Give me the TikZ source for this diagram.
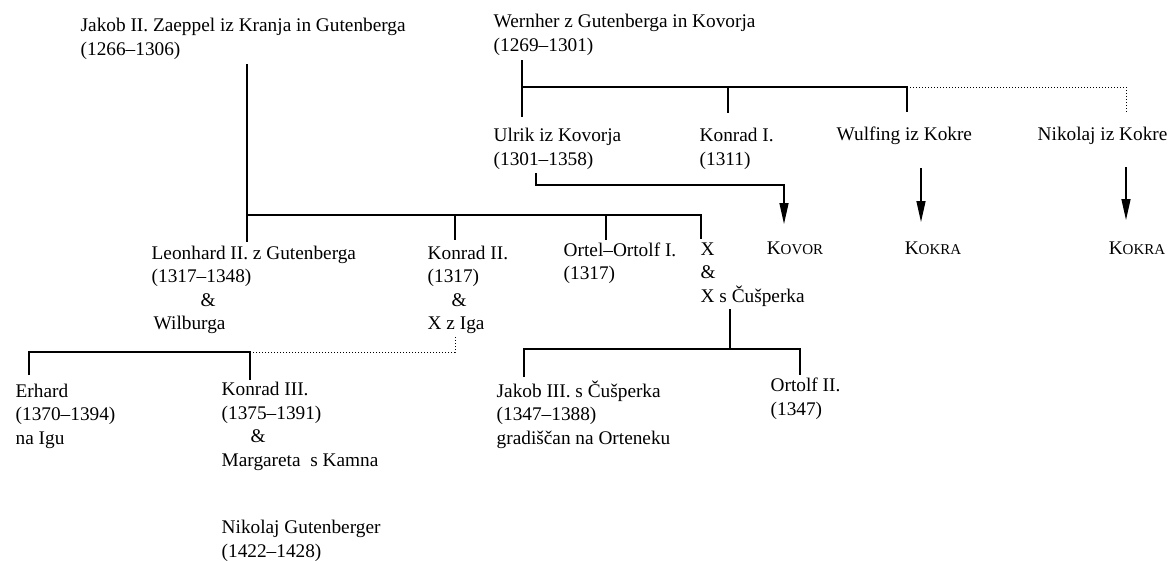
\documentclass[tikz,border=0pt]{standalone}
\usepackage{fontspec}
\usepackage{tikz}
\usetikzlibrary{arrows.meta}
\setmainfont{Liberation Serif}
\newcommand{\fakesc}[2]{#1{\fontsize{15}{18}\selectfont #2}}

\begin{document}
\begin{tikzpicture}[x=1pt,y=-1pt,line width=1.4pt,
    font=\fontsize{19.3}{23.5}\selectfont,
    person/.style={anchor=base west,align=left,inner sep=0pt},
    place/.style={anchor=base,inner sep=0pt},
    down/.style={-{Triangle[length=21pt,width=9pt]}},
    faint/.style={dotted,line width=1pt}]
    \useasboundingbox (0,0) rectangle (1170,560);
    % first generation (anchor is the baseline of the last line)
    \node at (80,55) [person] (jakob) {Jakob II. Zaeppel iz Kranja in Gutenberga\\(1266--1306)};
    \node at (493,51) [person] (wernher) {Wernher z Gutenberga in Kovorja\\(1269--1301)};
    % Kovor branch
    \node at (493,165) [person] (ulrik) {Ulrik iz Kovorja\\(1301--1358)};
    \node at (699,165) [person] (konradI) {Konrad I.\\(1311)};
    \node at (836,140) [person] (wulfing) {Wulfing iz Kokre};
    \node at (1037,140) [person] (nikolaj) {Nikolaj iz Kokre};
    \node at (795,254) [place] (kovor) {\fakesc{K}{OVOR}};
    \node at (933,254) [place] (kokraA) {\fakesc{K}{OKRA}};
    \node at (1137,254) [place] (kokraB) {\fakesc{K}{OKRA}};
    % Gutenberg branch
    \node at (151,329.5) [person] (leonhard) {Leonhard II. z Gutenberga\\(1317--1348)\\\hspace{49pt}\&\\\hspace{2pt}Wilburga};
    \node at (427,329.5) [person] (konradII) {Konrad II.\\(1317)\\\hspace{24pt}\&\\X z Iga};
    \node at (563,279.5) [person] (ortel) {Ortel--Ortolf I.\\(1317)};
    \node at (700,302) [person] (xcus) {X\\\&\\X s Čušperka};
    \node at (15,444) [person] (erhard) {Erhard\\(1370--1394)\\na Igu};
    \node at (221,466) [person] (konradIII) {Konrad III.\\(1375--1391)\\\hspace{29pt}\&\\Margareta\ \ s Kamna};
    \node at (496,444) [person] (jakobIII) {Jakob III. s Čušperka\\(1347--1388)\\gradiščan na Orteneku};
    \node at (770,415) [person] (ortolfII) {Ortolf II.\\(1347)};
    \node at (221,557) [person] (nikolajG) {Nikolaj Gutenberger\\(1422--1428)};
    % connector points
    \coordinate (j0) at (247,64);   \coordinate (j1) at (247,242);
    \coordinate (jb) at (701,215);  \coordinate (jx) at (701,239);
    \coordinate (k2) at (455,240);  \coordinate (o1) at (606,240);
    \coordinate (w0) at (522,60);   \coordinate (w1) at (522,117);
    \coordinate (wb) at (907,87);   \coordinate (k1) at (728,113);
    \coordinate (wf) at (907,112);  \coordinate (nk) at (1126,112);
    \coordinate (u0) at (536,173);  \coordinate (ka) at (784,224);
    \coordinate (f0) at (921,168);  \coordinate (fa) at (921,222);
    \coordinate (n0) at (1126,167); \coordinate (na) at (1126,220);
    \coordinate (i0) at (455,337);  \coordinate (c3) at (250,352);
    \coordinate (c3b) at (250,380); \coordinate (er) at (29,375);
    \coordinate (x0) at (730,309);  \coordinate (x1) at (730,349);
    \coordinate (j3) at (524,377);  \coordinate (o2) at (800,375);
    % lines
    \draw (j0) -- (j1) (j0 |- jb) -- (jb) -- (jx) (k2 |- jb) -- (k2) (o1 |- jb) -- (o1);
    \draw (w0) -- (w1) (w0 |- wb) -- (wb) -- (wf) (k1 |- wb) -- (k1);
    \draw[faint] (wb) -| (nk);
    \draw[down] (u0) |- ([yshift=-12pt]u0 -| ka) -- (ka);
    \draw[down] (f0) -- (fa);
    \draw[down] (n0) -- (na);
    \draw[faint] (i0) |- (c3);
    \draw (er) |- (c3) -- (c3b);
    \draw (x0) -- (x1) (j3) |- (x1) -| (o2);
\end{tikzpicture}
\end{document}
